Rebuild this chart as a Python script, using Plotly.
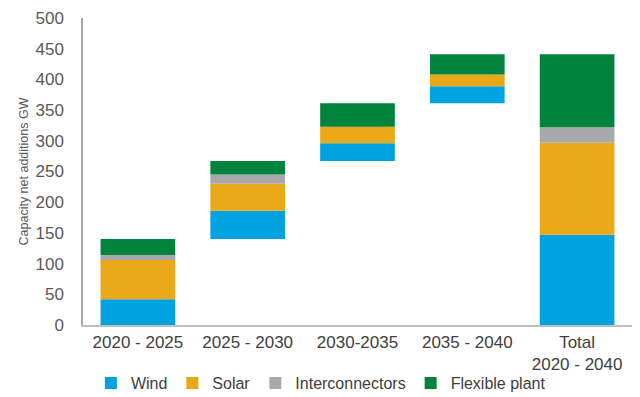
import numpy as np
import plotly.graph_objects as go

categories = ["2020 - 2025", "2025 - 2030", "2030-2035", "2035 - 2040", "Total<br>2020 - 2040"]
series_names = ["Wind", "Solar", "Interconnectors", "Flexible plant"]
colors = ["#00A3E0", "#E8A817", "#A8A9AD", "#00843D"]

# Period additions (GW)
wind = [42, 46, 29, 28]
solar = [64, 44, 27, 19]
interconnectors = [8, 15, 0, 0]
flexible = [26, 22, 38, 33]
# Total column (GW)
total = [147, 150, 25, 119]

y_ticks = [0, 50, 100, 150, 200, 250, 300, 350, 400, 450, 500]

periods = np.array([wind, solar, interconnectors, flexible], dtype=float)
period_sums = periods.sum(axis=0)
period_base = np.concatenate([[0], np.cumsum(period_sums)[:-1]])

values = np.hstack([periods, np.array(total, dtype=float).reshape(-1, 1)])
col_base = np.concatenate([period_base, [0]])

fig = go.Figure()
running = col_base.copy()
for i, name in enumerate(series_names):
    fig.add_trace(go.Bar(
        x=categories,
        y=values[i],
        base=running.copy(),
        name=name,
        marker=dict(color=colors[i], line=dict(width=0)),
        width=0.68,
    ))
    running = running + values[i]

fig.update_layout(
    barmode="overlay",
    width=640, height=397,
    margin=dict(l=83, r=8, t=18, b=72),
    plot_bgcolor="white", paper_bgcolor="white",
    font=dict(family="Liberation Sans, Arial, sans-serif", color="#595959", size=17),
    showlegend=True,
    legend=dict(orientation="h", xref="container", yref="container",
                x=0.142, xanchor="left", y=0.035, yanchor="middle",
                font=dict(size=16, color="#404040"), traceorder="normal",
                itemwidth=30, bgcolor="rgba(0,0,0,0)"),
)
fig.update_yaxes(
    range=[0, 500], tickvals=y_ticks, showgrid=False, zeroline=False,
    showline=True, linecolor="#A6A6A6", linewidth=1.5,
    ticks="", ticklabelstandoff=14, automargin=False,
    tickfont=dict(size=17, color="#595959"),
    title=dict(text="Capacity net additions GW", font=dict(size=12.5, color="#595959"), standoff=4),
)
fig.update_xaxes(
    showgrid=False, showline=True, linecolor="#BFBFBF", linewidth=1.5,
    ticks="", ticklabelstandoff=1, automargin=False,
    tickfont=dict(size=17, color="#404040"),
)

fig.write_html("out.html", post_script="document.body.style.margin='0';",
               config={"displayModeBar": False})
